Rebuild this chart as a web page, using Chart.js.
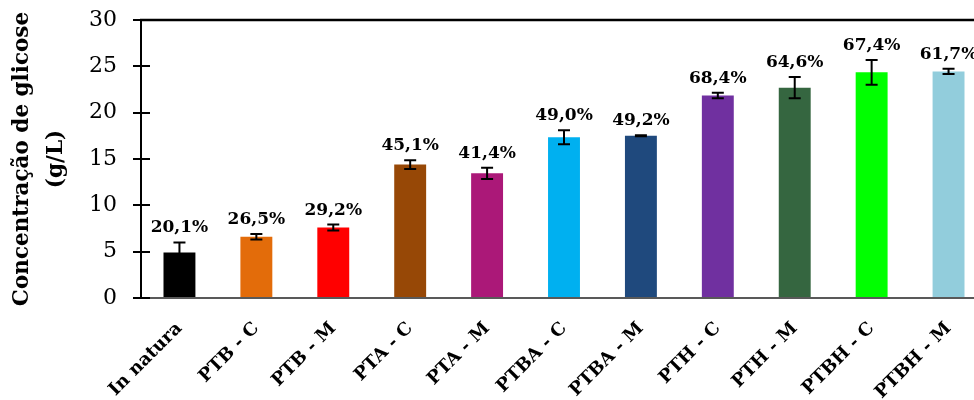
<!DOCTYPE html>
<html>
<head>
<meta charset="utf-8">
<script src="https://cdn.jsdelivr.net/npm/chart.js@4/dist/chart.umd.min.js"></script>
<style>
  html, body { margin: 0; padding: 0; background: #fff; overflow: hidden; }
  #wrap { width: 990px; height: 400px; position: relative; }
</style>
</head>
<body>
<div id="wrap"><canvas id="c"></canvas></div>
<script>
// Pretreatments and the glucose released by each one
const categories = ['In natura', 'PTB - C', 'PTB - M', 'PTA - C', 'PTA - M', 'PTBA - C', 'PTBA - M', 'PTH - C', 'PTH - M', 'PTBH - C', 'PTBH - M'];
const glucose    = [4.9, 6.6, 7.6, 14.4, 13.45, 17.35, 17.5, 21.85, 22.7, 24.35, 24.45];
const glucoseSd  = [1.1, 0.3, 0.32, 0.47, 0.6, 0.76, 0.05, 0.29, 1.15, 1.33, 0.29];
const yieldLabels = ['20,1%', '26,5%', '29,2%', '45,1%', '41,4%', '49,0%', '49,2%', '68,4%', '64,6%', '67,4%', '61,7%'];
const barColors  = ['#000000', '#E36C0A', '#FF0000', '#974806', '#AB1878', '#00B0F0', '#1F497D', '#7030A0', '#356640', '#00FF00', '#92CDDC'];
const yTickValues = [0, 5, 10, 15, 20, 25, 30];

const SERIF = '"DejaVu Serif", "Liberation Serif", serif';

// Frame line on top, inner halves of the y tick marks, error bars and yield labels
const decorations = {
  id: 'decorations',
  afterDatasetsDraw(chart) {
    const { ctx, chartArea, scales: { x, y } } = chart;
    ctx.save();
    ctx.strokeStyle = '#000';
    ctx.lineWidth = 2.5;
    ctx.beginPath();
    ctx.moveTo(chartArea.left - 1, chartArea.top);
    ctx.lineTo(chartArea.right, chartArea.top);
    ctx.stroke();

    ctx.lineWidth = 2;
    yTickValues.forEach(v => {
      const py = Math.round(y.getPixelForValue(v));
      ctx.beginPath();
      ctx.moveTo(chartArea.left, py);
      ctx.lineTo(chartArea.left + 9, py);
      ctx.stroke();
    });

    const cap = 6;
    ctx.font = 'bold 17px ' + SERIF;
    ctx.textAlign = 'center';
    ctx.textBaseline = 'alphabetic';
    ctx.fillStyle = '#000';
    glucose.forEach((v, i) => {
      const px = x.getPixelForValue(i);
      const top = y.getPixelForValue(v + glucoseSd[i]);
      const bot = y.getPixelForValue(v - glucoseSd[i]);
      ctx.beginPath();
      ctx.moveTo(px, top); ctx.lineTo(px, bot);
      ctx.moveTo(px - cap, top); ctx.lineTo(px + cap, top);
      ctx.moveTo(px - cap, bot); ctx.lineTo(px + cap, bot);
      ctx.stroke();
      ctx.fillText(yieldLabels[i], px, top - 10);
    });
    ctx.restore();
  }
};

new Chart(document.getElementById('c'), {
  type: 'bar',
  data: {
    labels: categories,
    datasets: [{
      data: glucose,
      backgroundColor: barColors,
      borderWidth: 0,
      barPercentage: 0.415,
      categoryPercentage: 1
    }]
  },
  options: {
    responsive: true,
    maintainAspectRatio: false,
    animation: false,
    devicePixelRatio: 1,
    layout: { padding: { top: 20, right: 3, left: 0, bottom: 0 } },
    plugins: { legend: { display: false }, tooltip: { enabled: false } },
    scales: {
      x: {
        grid: { display: false },
        border: { display: true, color: '#595959', width: 2 },
        ticks: {
          color: '#000',
          font: { family: SERIF, size: 18, weight: 'bold' },
          maxRotation: 45,
          minRotation: 45,
          padding: 12
        },
        afterFit(scale) { scale.height = 102; }
      },
      y: {
        min: 0,
        max: 30,
        afterBuildTicks(scale) { scale.ticks = yTickValues.map(v => ({ value: v })); },
        grid: { drawOnChartArea: false, drawTicks: true, tickLength: 8, color: '#000', lineWidth: 2 },
        border: { display: true, color: '#000', width: 2 },
        ticks: {
          color: '#000',
          font: { family: SERIF, size: 22, lineHeight: 0.35 },
          padding: 16
        },
        title: {
          display: true,
          text: ['Concentração de glicose', '(g/L)'],
          color: '#000',
          font: { family: SERIF, size: 21.5, weight: 'bold', lineHeight: 1.56 },
          padding: { top: 6, bottom: 0 }
        },
        afterFit(scale) { scale.width = 141; }
      }
    }
  },
  plugins: [decorations]
});
</script>
</body>
</html>
